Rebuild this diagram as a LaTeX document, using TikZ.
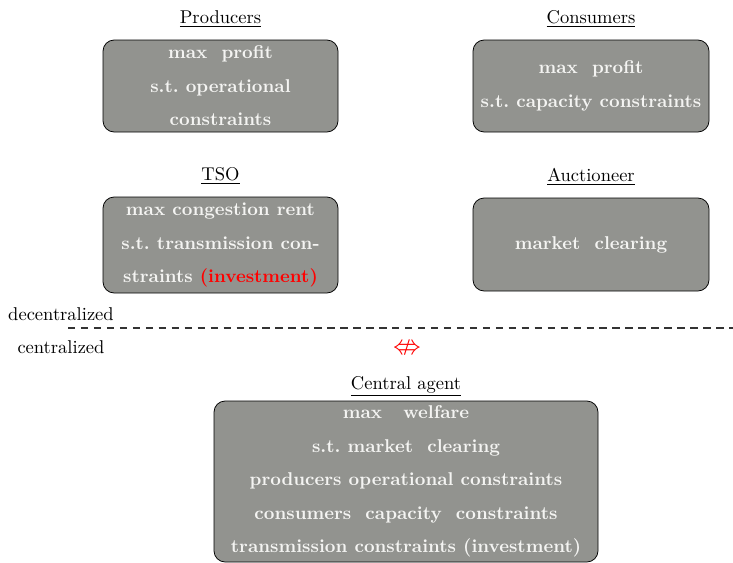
\documentclass[tikz,border=0pt]{standalone}
\usepackage{amsmath,amssymb}
\usepackage{tikz}
\usetikzlibrary{shapes,arrows,positioning}
\definecolor{boxgray}{RGB}{146,147,143}
\definecolor{boxtext}{RGB}{244,244,242}
\tikzstyle{agentbox} = [draw=black, fill=boxgray, rectangle, rounded corners=6pt, text=boxtext, align=center, font=\bfseries\fontsize{10}{18.1}\selectfont, inner sep=0pt]
\tikzstyle{agenttitle} = [inner sep=2pt, font=\fontsize{10}{12}\selectfont]
\begin{document}
\begin{tikzpicture}[x=0.54pt,y=-0.54pt]
  \useasboundingbox (0,0) rectangle (733,563);
  % decentralized agents
  \node [agentbox, minimum width=235*0.54pt, minimum height=92*0.54pt] (prod) at (220.5,86)
    {max\ \ profit\\ s.t.\ operational\\ constraints};
  \node [agentbox, minimum width=236*0.54pt, minimum height=92*0.54pt] (cons) at (591,86)
    {max\ \ profit\\ s.t.\ capacity constraints};
  \node [agentbox, minimum width=235*0.54pt, minimum height=96*0.54pt] (tso) at (220.5,245)
    {max congestion rent\\ s.t.\ transmission con-\\ straints \textcolor{red}{(investment)}};
  \node [agentbox, minimum width=236*0.54pt, minimum height=93*0.54pt] (auct) at (591,244.5)
    {market\ \ clearing};
  \node [agenttitle, above=4.5pt of prod] (prodtitle) {\underline{Producers}};
  \node [agenttitle, above=4.5pt of cons] (constitle) {\underline{Consumers}};
  \node [agenttitle, above=4.5pt of tso] (tsotitle) {\underline{TSO}};
  \node [agenttitle, above=4.5pt of auct] (aucttitle) {\underline{Auctioneer}};
  % separation
  \coordinate (sepl) at (68,328);
  \coordinate (sepr) at (733,328);
  \draw [dashed, dash pattern=on 4pt off 3pt, line width=0.6pt, black!80] (sepl) -- (sepr);
  \node [agenttitle] (dec) at (61,314) {decentralized};
  \node [agenttitle] (cen) at (61,347) {centralized};
  \node [text=red, inner sep=0pt, scale=1.5] (noteq) at (407,349) {$\nLeftrightarrow$};
  % central agent
  \node [agentbox, minimum width=384*0.54pt, minimum height=161*0.54pt] (central) at (406,481.5)
    {max\ \ \ welfare\\ s.t.\ market\ \ clearing\\ producers\ operational\ constraints\\
     consumers\ \ capacity\ \ constraints\\ transmission constraints (investment)};
  \node [agenttitle, above=0pt of central] (centraltitle) {\underline{Central agent}};
\end{tikzpicture}
\end{document}
